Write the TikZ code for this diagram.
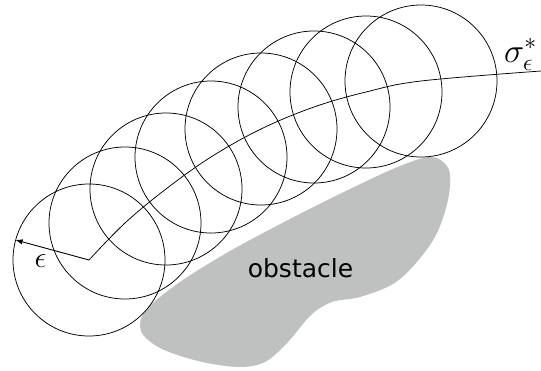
\documentclass[tikz,border=0pt]{standalone}
\usepackage{fix-cm}
\usepackage{fontspec}
\newfontfamily\labelfont{DejaVu Sans}
\usetikzlibrary{arrows.meta,calc}
\definecolor{obstgray}{RGB}{191,193,192}
\tikzset{
  ring/.style={draw=black, line width=0.75pt},
  pathline/.style={draw=black, line width=0.75pt},
  radiusarrow/.style={draw=black, line width=0.9pt, -{Latex[length=7pt,width=5.5pt]}},
}
\begin{document}
\begin{tikzpicture}[x=1pt,y=-1pt]
\useasboundingbox (0,0) rectangle (541,370);
% obstacle
\fill[obstgray] plot[smooth cycle, tension=0.55] coordinates {
 (432,157) (449,170) (448,200) (436,235) (416,263) (393,284) (360,297)
 (332,302) (311,315) (288,342) (265,362) (238,367) (198,361) (160,348)
 (141,331) (146,310) (180,282) (230,251) (290,219) (350,189) (400,166)};
\node[font=\labelfont\fontsize{25}{30}\selectfont, anchor=base, inner sep=0pt] (obs) at (300.5,277) {obstacle};
% path centres
\coordinate (c1) at (89,260);
\coordinate (c2) at (125,223);
\coordinate (c3) at (166,189);
\coordinate (c4) at (211,157);
\coordinate (c5) at (261,129);
\coordinate (c6) at (314,107);
\coordinate (c7) at (366,92);
\coordinate (c8) at (421,81);
\coordinate (pend) at (541,71);
\foreach \c in {c1,c2,c3,c4,c5,c6,c7,c8}
  \draw[ring] (\c) circle[radius=76pt];
\draw[pathline] plot[smooth, tension=0.6] coordinates {(c1) (c2) (c3) (c4) (c5) (c6) (c7) (c8) (pend)};
\coordinate (rtip) at ($(c1)+(-73.4,-20)$);
\draw[radiusarrow] (c1) -- (rtip);
\node[anchor=base, inner sep=0pt, font=\fontsize{30}{34}\selectfont] (eps) at (40.5,267) {$\epsilon$};
\node[anchor=base west, inner sep=0pt, font=\fontsize{34}{38}\selectfont] (sig) at (504,62) {$\sigma^*_\epsilon$};
\end{tikzpicture}
\end{document}
